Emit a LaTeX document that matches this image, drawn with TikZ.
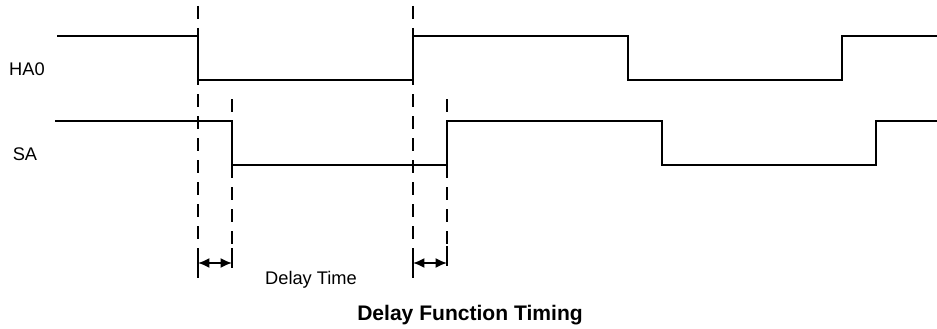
\documentclass[tikz,border=0pt]{standalone}
\usepackage{fontspec}
\setmainfont{Liberation Sans}
\usetikzlibrary{arrows.meta}
\tikzset{
  wave/.style={line width=1.3pt, line join=miter},
  guide/.style={line width=1.3pt, dash pattern=on 10pt off 6.5pt},
  delayarrow/.style={line width=1.3pt, {Latex[length=8.5pt,width=7.5pt]}-{Latex[length=8.5pt,width=7.5pt]}},
  lbl/.style={font=\fontsize{13.7}{16}\selectfont, inner sep=0pt},
  ttl/.style={font=\fontsize{15.8}{18}\selectfont\bfseries, inner sep=0pt}
}
\begin{document}
\begin{tikzpicture}[x=0.75pt,y=-0.75pt]
\useasboundingbox (0,0) rectangle (937,328);
% labels
\node[lbl] (ha) at (27,69) {HA0};
\node[lbl] (sa) at (25,154) {SA};
\node[lbl] (dt) at (311,280) {Delay Time};
\node[ttl] (title) at (470,315) {Delay Function Timing};
% edge coordinates
\coordinate (h1) at (198,0);
\coordinate (h2) at (413,0);
\coordinate (s1) at (232,0);
\coordinate (s2) at (447,0);
% waveforms
\draw[wave] (57,36) -- (198,36) -- (198,80) -- (413,80) -- (413,36) -- (628,36) -- (628,80) -- (842,80) -- (842,36) -- (937,36);
\draw[wave] (55,121) -- (232,121) -- (232,165) -- (447,165) -- (447,121) -- (662,121) -- (662,165) -- (876,165) -- (876,121) -- (937,121);
% guides
\draw[guide] ([yshift=-6*0.75pt]h1) -- ++(0,272);
\draw[guide] ([yshift=-6*0.75pt]h2) -- ++(0,272);
\draw[guide] ([yshift=-99*0.75pt]s1) -- ++(0,172);
\draw[guide] ([yshift=-99*0.75pt]s2) -- ++(0,176);
% delay arrows
\coordinate (a1) at (198,263);
\coordinate (a2) at (232,263);
\coordinate (a3) at (413,263);
\coordinate (a4) at (447,263);
\draw[line width=1.3pt] (198,250) -- (198,270) (232,248) -- (232,268) (413,250) -- (413,270) (447,246) -- (447,266);
\draw[delayarrow] (a1) -- (a2);
\draw[delayarrow] (a3) -- (a4);
\end{tikzpicture}
\end{document}
